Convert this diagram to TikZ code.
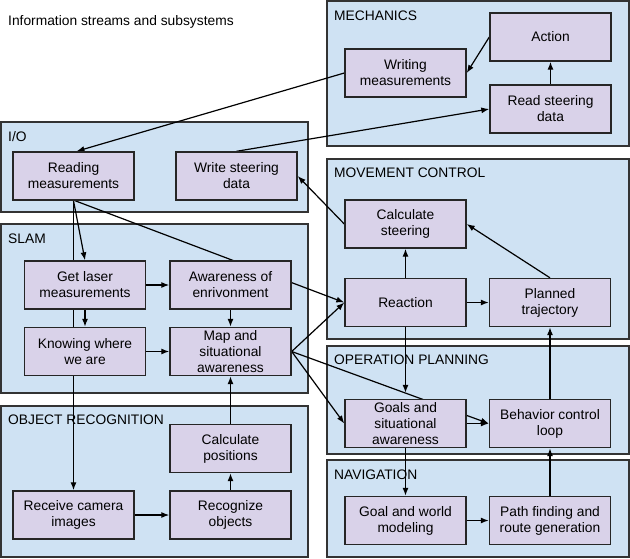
\documentclass[tikz,border=0pt]{standalone}
\usepackage{fontspec}
\setmainfont{Liberation Sans}
\usepackage{xcolor}
\usetikzlibrary{arrows.meta,calc,positioning}
\definecolor{groupblue}{HTML}{CFE2F3}
\definecolor{boxpurple}{HTML}{D9D2E9}
\definecolor{edgegray}{HTML}{333333}
\pgfdeclarelayer{groups}
\pgfdeclarelayer{lines}
\pgfsetlayers{groups,lines,main}

\begin{document}
\begin{tikzpicture}[x=1pt, y=-1pt,
		every node/.style={font=\fontsize{13.8}{16}\selectfont},
		groupbox/.style={draw=edgegray, line width=1.8pt, fill=groupblue},
		grouplabel/.style={anchor=west, inner sep=0pt},
		procbox/.style={draw=black!85, line width=1.4pt, fill=boxpurple, minimum width=121pt, minimum height=48pt, align=center, inner sep=1pt},
		flow/.style={line width=1.2pt, -{Latex[length=8pt,width=6pt]}},
		plain/.style={line width=1.2pt}]
		\useasboundingbox (0,0) rectangle (630,558);
		\node [grouplabel] (title) at (8,22) {Information streams and subsystems};
		\node [procbox] (readm) at (73.5,176) {Reading\\measurements};
		\node [procbox] (writesd) at (236.5,176) {Write steering\\data};
		\node [procbox] (getlaser) at (85,285) {Get laser\\measurements};
		\node [procbox] (aware) at (230.5,285) {Awareness of\\enrivonment};
		\node [procbox] (knowing) at (85,351.5) {Knowing where\\we are};
		\node [procbox] (mapsa) at (230.5,351.5) {Map and\\situational\\awareness};
		\node [procbox] (calcpos) at (230.5,448.5) {Calculate\\positions};
		\node [procbox] (receive) at (73.5,515) {Receive camera\\images};
		\node [procbox] (recog) at (230.5,515) {Recognize\\objects};
		\node [procbox] (action) at (550.5,37) {Action};
		\node [procbox] (writem) at (405.5,73) {Writing\\measurements};
		\node [procbox] (readsd) at (550.5,109) {Read steering\\data};
		\node [procbox] (calcst) at (405.5,224) {Calculate\\steering};
		\node [procbox] (reaction) at (405.5,302.5) {Reaction};
		\node [procbox] (planned) at (550,302.5) {Planned\\trajectory};
		\node [procbox] (goals) at (405.5,423.5) {Goals and\\situational\\awareness};
		\node [procbox] (behavior) at (550,423.5) {Behavior control\\loop};
		\node [procbox] (goalworld) at (405.5,520.5) {Goal and world\\modeling};
		\node [procbox] (pathfind) at (550,520.5) {Path finding and\\route generation};
		\begin{pgfonlayer}{groups}
			\draw [groupbox] (327,1) rectangle (629,146);
			\draw [groupbox] (1,122) rectangle (308,212);
			\draw [groupbox] (327,159) rectangle (629,339);
			\draw [groupbox] (1,224) rectangle (308,393);
			\draw [groupbox] (327,346) rectangle (629,454);
			\draw [groupbox] (1,406) rectangle (308,557);
			\draw [groupbox] (327,460) rectangle (629,557);
		\end{pgfonlayer}
		\node [grouplabel] (lblmech) at (334,16) {MECHANICS};
		\node [grouplabel] (lblio) at (8,137) {I/O};
		\node [grouplabel] (lblmove) at (334,173) {MOVEMENT CONTROL};
		\node [grouplabel] (lblslam) at (8,239) {SLAM};
		\node [grouplabel] (lblplan) at (334,360) {OPERATION PLANNING};
		\node [grouplabel] (lblobj) at (8,420) {OBJECT RECOGNITION};
		\node [grouplabel] (lblnav) at (334,475) {NAVIGATION};
		\begin{pgfonlayer}{lines}
			\draw [flow] (writem.west) -- ([xshift=3pt]readm.north);
			\draw [flow] (action.west) -- (writem.east);
			\draw [flow] (readsd) -- (action);
			\draw [flow] (writesd.north) -- (readsd.west);
			\draw [flow] (calcst.west) -- (writesd.east);
			\draw [flow] (reaction) -- (calcst);
			\draw [flow] (planned.north) -- (calcst.east);
			\draw [flow] (reaction) -- (planned);
			\draw [flow] (behavior) -- (planned);
			\draw [flow] (pathfind) -- (behavior);
			\draw [flow] (goalworld) -- (pathfind);
			\draw [flow] (reaction.south) -- ([yshift=6pt]goals.north);
			\draw [flow] (goals.south) -- (goalworld.north);
			\draw [flow] (goals.east) -- (behavior.west);
			\draw [flow] (mapsa.east) -- (reaction.west);
			\draw [flow] (mapsa.east) -- (goals.west);
			\draw [flow] (mapsa.east) -- (behavior.west);
			\draw [flow] (readm.south) -- (getlaser.north);
			\draw [flow] (readm.south) -- (receive.north);
			\draw [flow] ([xshift=1.5pt]readm.south) -- (reaction.west);
			\draw [flow] (getlaser) -- (aware);
			\draw [flow] (getlaser) -- (knowing);
			\draw [flow] (aware) -- (mapsa);
			\draw [flow] (knowing) -- (mapsa);
			\draw [flow] (calcpos) -- (mapsa);
			\draw [flow] (recog) -- (calcpos);
			\draw [flow] (receive) -- (recog);
		\end{pgfonlayer}
	\end{tikzpicture}
\end{document}
